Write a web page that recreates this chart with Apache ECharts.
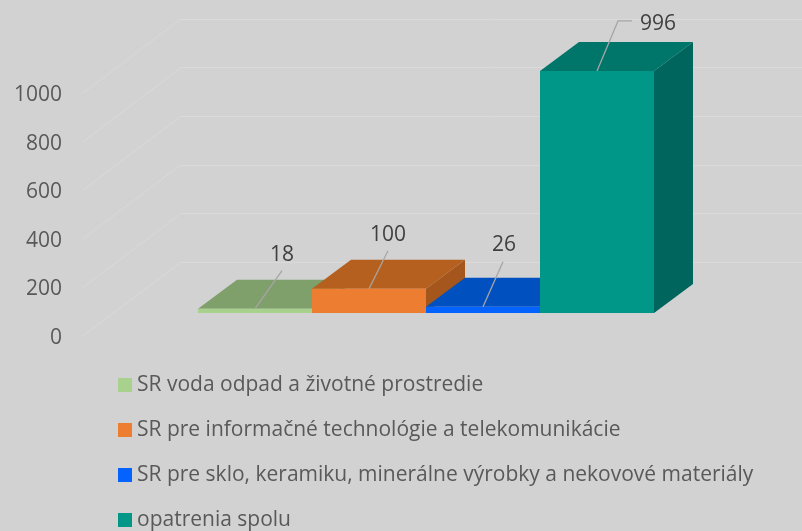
<!DOCTYPE html>
<html>
<head>
    <meta charset="utf-8">
    <title>opatrenia spolu</title>
    <script src="https://cdn.jsdelivr.net/npm/echarts@6/dist/echarts.min.js"></script>
    <style>
        html, body { margin: 0; padding: 0; background: #d2d2d2; }
        #chart { width: 802px; height: 531px; }
    </style>
</head>
<body>
<div id="chart"></div>
<script>
    var categories = [
        'SR voda odpad a životné prostredie',
        'SR pre informačné technológie a telekomunikácie',
        'SR pre sklo, keramiku, minerálne výrobky a nekovové materiály',
        'opatrenia spolu'
    ];
    var values = [18, 100, 26, 996];
    var tickLabels = [0, 200, 400, 600, 800, 1000];

    var font = '"Open Sans"';
    var textColor = '#595959';
    var gridColor = '#dadada';

    // front, top, side
    var barColors = [
        ['#a9d18e', '#7f9f6b', '#6f8c5e'],
        ['#ed7d31', '#b5601f', '#a5561c'],
        ['#0563fd', '#0050c0', '#00449f'],
        ['#009688', '#00766b', '#00665d']
    ];

    // how far the bars and the back wall are pushed into the picture
    var barDepth = [39, -29];
    var wallDepth = [98, -74];

    // leader line bends and label centre, relative to the middle of the bar's top edge
    var leaders = [
        [[27, -38], null, [27, -54]],
        [[19, -38], null, [19, -54]],
        [[20, -45], null, [21, -62]],
        [[21, -50], [35, -50], [61, -47]]
    ];

    function renderBar(params, api) {
        var i = api.value(0);
        var top = api.coord([i, api.value(1)]);
        var base = api.coord([i, 0]);
        var w = api.size([1, 0])[0];
        var l = top[0] - w / 2;
        var r = top[0] + w / 2;
        var dx = barDepth[0];
        var dy = barDepth[1];
        var c = barColors[i];
        var lead = leaders[i];
        var pts = [[top[0], top[1]], [top[0] + lead[0][0], top[1] + lead[0][1]]];
        if (lead[1]) {
            pts.push([top[0] + lead[1][0], top[1] + lead[1][1]]);
        }
        return {
            type: 'group',
            children: [
                {type: 'polygon', shape: {points: [[r, top[1]], [r + dx, top[1] + dy], [r + dx, base[1] + dy], [r, base[1]]]}, style: {fill: c[2]}},
                {type: 'polygon', shape: {points: [[l, top[1]], [l + dx, top[1] + dy], [r + dx, top[1] + dy], [r, top[1]]]}, style: {fill: c[1]}},
                {type: 'rect', shape: {x: l, y: top[1], width: w, height: base[1] - top[1]}, style: {fill: c[0]}},
                {type: 'polyline', shape: {points: pts}, style: {fill: 'none', stroke: '#a6a6a6', lineWidth: 1.3}},
                {
                    type: 'text',
                    x: top[0] + lead[2][0],
                    y: top[1] + lead[2][1],
                    style: {text: String(api.value(1)), fill: '#404040', font: '21px ' + font, align: 'center', verticalAlign: 'middle'}
                }
            ]
        };
    }

    // diagonal part of each gridline, from the back wall's left edge to the front edge
    function renderDiagonal(params, api) {
        var y = api.coord([0, api.value(0)])[1];
        var x = params.coordSys.x;
        return {
            type: 'line',
            shape: {x1: x, y1: y, x2: x - wallDepth[0], y2: y - wallDepth[1]},
            style: {stroke: gridColor, lineWidth: 1}
        };
    }

    var myChart = echarts.init(document.getElementById('chart'));

    var series = [{
        type: 'custom',
        name: 'diagonals',
        xAxisIndex: 0,
        yAxisIndex: 0,
        silent: true,
        renderItem: renderDiagonal,
        encode: {y: 0},
        data: tickLabels.map(function (t) { return [t]; })
    }];
    categories.forEach(function (name, i) {
        series.push({
            type: 'custom',
            name: name,
            xAxisIndex: 2,
            yAxisIndex: 2,
            itemStyle: {color: barColors[i][0]},
            renderItem: renderBar,
            encode: {x: 0, y: 1},
            data: [[i, values[i]]],
            z: 10 + i
        });
    });

    myChart.setOption({
        backgroundColor: '#d2d2d2',
        animation: false,
        legend: {
            orient: 'vertical',
            left: 118,
            top: 374.5,
            padding: 0,
            itemWidth: 14,
            itemHeight: 14,
            itemGap: 24,
            icon: 'rect',
            data: categories,
            textStyle: {color: textColor, fontFamily: font, fontSize: 21}
        },
        grid: [
            // back wall
            {left: 181, top: 19, width: 621, height: 243},
            // front edge, carries only the labels
            {left: 83, top: 95, width: 98, height: 243},
            // bars
            {left: 198, top: 70, width: 456, height: 243}
        ],
        xAxis: [
            {gridIndex: 0, type: 'category', data: categories, show: false},
            {gridIndex: 1, type: 'category', data: categories, show: false},
            {gridIndex: 2, type: 'category', data: categories, show: false}
        ],
        yAxis: [
            {
                gridIndex: 0, type: 'value', min: 0, max: 1000, interval: 200,
                axisLine: {show: false}, axisTick: {show: false}, axisLabel: {show: false},
                splitLine: {lineStyle: {color: gridColor, width: 1}}
            },
            {
                gridIndex: 1, type: 'value', min: 0, max: 1000, interval: 200,
                axisLine: {show: false}, axisTick: {show: false}, splitLine: {show: false},
                axisLabel: {color: textColor, fontFamily: font, fontSize: 21, margin: 21, formatter: function (v) { return String(v); }}
            },
            {gridIndex: 2, type: 'value', min: 0, max: 1000, interval: 200, show: false}
        ],
        series: series
    });
</script>
</body>
</html>
